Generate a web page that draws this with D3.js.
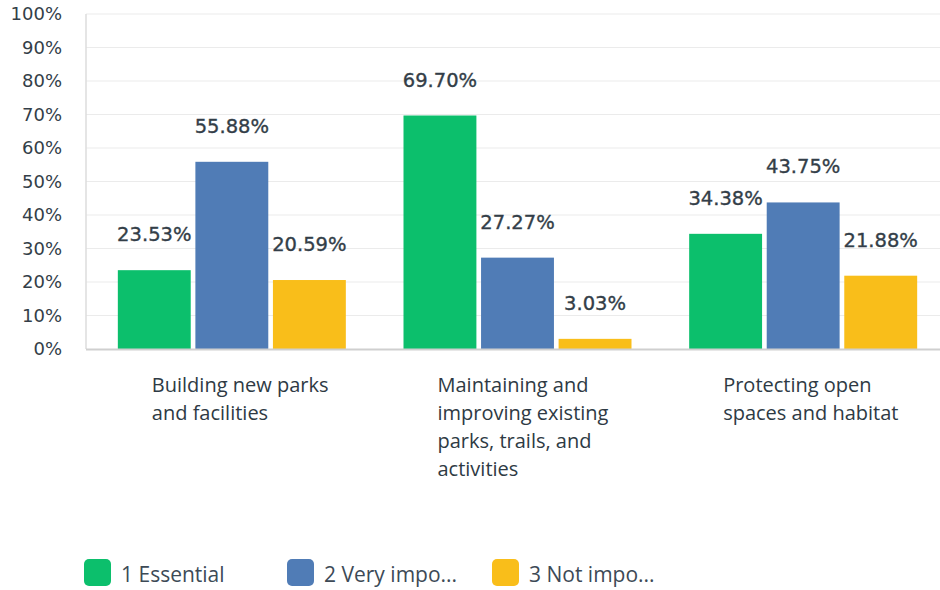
<!DOCTYPE html>
<html><head><meta charset="utf-8">
<script src="https://cdn.jsdelivr.net/npm/d3@7"></script>
<style>body{margin:0;background:#fff}svg{display:block}</style>
</head><body>
<svg id="c" width="940" height="590"></svg>
<script>
const categories = [
  ["Building new parks", "and facilities"],
  ["Maintaining and", "improving existing", "parks, trails, and", "activities"],
  ["Protecting open", "spaces and habitat"]
];
const seriesNames = ["1 Essential", "2 Very impo...", "3 Not impo..."];
const seriesColors = ["#0CBF6C", "#507CB6", "#F9BE1A"];
const essential = [23.53, 69.70, 34.38];
const veryImportant = [55.88, 27.27, 43.75];
const notImportant = [20.59, 3.03, 21.88];
const yTicks = [0,10,20,30,40,50,60,70,80,90,100];

const series = [essential, veryImportant, notImportant];
const svg = d3.select("#c");
const geo = "'DejaVu Sans', sans-serif";
const hum = "'Open Sans', sans-serif";
const pLeft = 86, pRight = 946, pTop = 14, pBottom = 349;

const x = d3.scaleBand().domain([0,1,2]).range([pLeft+3, pRight]).paddingInner(0).paddingOuter(0);
const xi = d3.scaleBand().domain([0,1,2]).range([0, 228]).paddingInner(0.06).paddingOuter(0);
const y = d3.scaleLinear().domain([0,100]).range([pBottom, pTop]);

// gridlines
svg.append("g").selectAll("line").data(yTicks.filter(d=>d>0)).join("line")
  .attr("x1", pLeft).attr("x2", 940).attr("y1", d=>y(d)).attr("y2", d=>y(d))
  .attr("stroke", "#ebebeb").attr("stroke-width", 1.2);
svg.append("line").attr("x1", pLeft).attr("x2", pLeft).attr("y1", pTop).attr("y2", pBottom)
  .attr("stroke", "#dcdcdc").attr("stroke-width", 1.5);

// y tick labels
svg.append("g").selectAll("text").data(yTicks).join("text")
  .attr("x", 62).attr("y", d=>y(d)).attr("dy", "0.36em")
  .attr("text-anchor", "end").attr("font-family", geo).attr("font-size", 18)
  .attr("fill", "#333e48")
  .text(d=>d+"%");

// bars
const groups = svg.append("g").selectAll("g").data([0,1,2]).join("g")
  .attr("transform", c => `translate(${x(c) + (x.bandwidth()-228)/2},0)`);
groups.each(function(c){
  const g = d3.select(this);
  series.forEach((s, i) => {
    g.append("rect").attr("x", xi(i)).attr("width", xi.bandwidth())
      .attr("y", y(s[c])).attr("height", y(0)-y(s[c]))
      .attr("fill", seriesColors[i]);
    g.append("text").attr("x", xi(i)+xi.bandwidth()/2).attr("y", y(s[c]) - 36)
      .attr("dy", "0.36em").attr("text-anchor", "middle")
      .attr("font-family", geo).attr("font-size", 19.5)
      .attr("fill", "#333e48").attr("stroke", "#333e48").attr("stroke-width", 0.35)
      .text(s[c].toFixed(2)+"%");
  });
});

// baseline
svg.append("line").attr("x1", pLeft).attr("x2", 940).attr("y1", pBottom+0.5).attr("y2", pBottom+0.5)
  .attr("stroke", "#cfcfcf").attr("stroke-width", 2);

// category labels
svg.append("g").selectAll("text").data([0,1,2]).join("text")
  .attr("font-family", hum).attr("font-size", 20).attr("font-weight", 500).attr("fill", "#2e3a44")
  .each(function(c){
    const t = d3.select(this);
    categories[c].forEach((line, k) => {
      t.append("tspan").attr("x", x(c) + x.bandwidth()/2 - 80).attr("y", 392 + k*28).text(line);
    });
  });

// legend
const legendX = [84, 287, 492];
const lg = svg.append("g").selectAll("g").data(seriesNames).join("g")
  .attr("transform", (d,i)=>`translate(${legendX[i]},559)`);
lg.append("rect").attr("width", 27).attr("height", 27).attr("rx", 5)
  .attr("fill", (d,i)=>seriesColors[i]);
lg.append("text").attr("x", 37).attr("y", 15).attr("dy", "0.36em")
  .attr("font-family", hum).attr("font-size", 21)
  .attr("fill", "#3d4a56").text(d=>d);
</script>
</body></html>
